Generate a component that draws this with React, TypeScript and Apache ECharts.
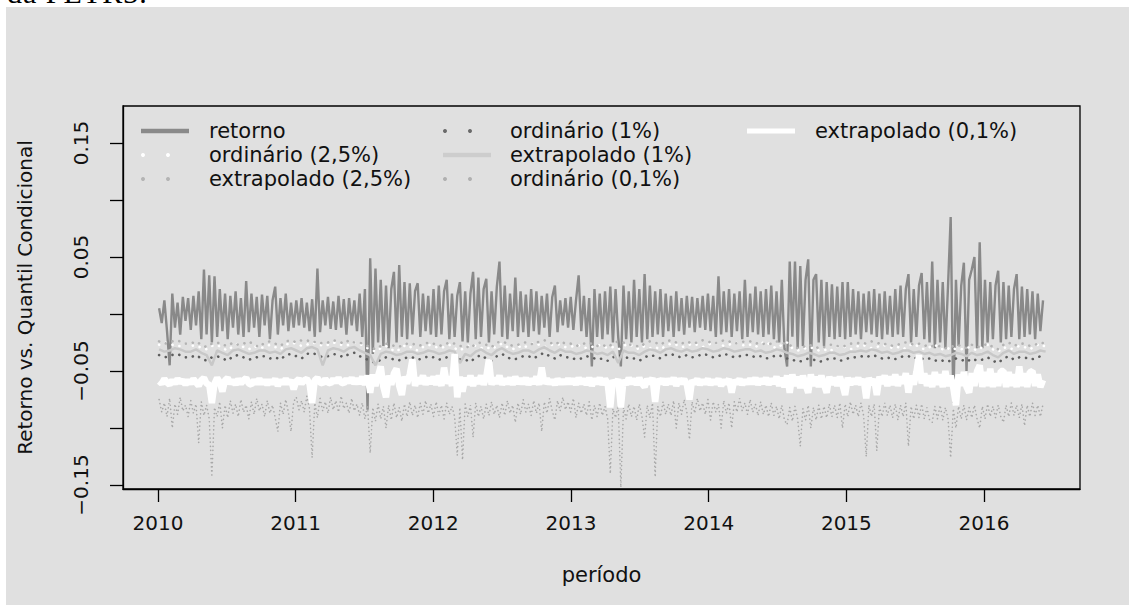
import React, { useEffect, useRef } from 'react';
import * as echarts from 'echarts';

const FONT = '"DejaVu Sans", sans-serif';

// weekly observation index -> decimal year (first week of Jan 2010 onward)
const weekT = (i: number) => 2010 + (3 + 7 * i) / 365.25;
// two-weekly index -> decimal year
const fortT = (k: number) => 2010 + (3 + 14 * k) / 365.25;

const X_TICKS = [2010, 2011, 2012, 2013, 2014, 2015, 2016];
const Y_TICKS = [-0.15, -0.1, -0.05, 0, 0.05, 0.1, 0.15];
const Y_LABELS = [-0.15, -0.05, 0.05, 0.15];

const SERIES_NAMES = [
  'retorno',
  'ordinário (2,5%)',
  'extrapolado (2,5%)',
  'ordinário (1%)',
  'extrapolado (1%)',
  'ordinário (0,1%)',
  'extrapolado (0,1%)',
];

// weekly returns
const retorno = [
  // 2010
  0.005, -0.008, 0.012, -0.015, -0.045, 0.018, -0.012, 0.010, -0.018, 0.015, -0.006, 0.014, -0.014, 0.016, -0.010, 0.020,
  -0.022, 0.039, -0.018, 0.034, -0.025, 0.033, -0.020, 0.022, -0.015, 0.018, -0.022, 0.016, -0.012, 0.020, -0.018, 0.014,
  -0.020, 0.029, -0.016, 0.018, -0.012, 0.015, -0.020, 0.017, -0.010, 0.016, -0.022, 0.012, 0.024, -0.018, 0.014, -0.010,
  0.018, -0.015, 0.010, -0.012,
  // 2011
  0.012, -0.010, 0.014, -0.012, 0.010, -0.015, 0.013, -0.020, 0.040, -0.016, 0.012, -0.010, 0.015, -0.013, 0.011, -0.014,
  0.016, -0.012, 0.013, -0.018, 0.014, -0.010, 0.012, -0.015, 0.018, -0.020, 0.022, -0.084, 0.049, -0.035, 0.040, -0.025,
  0.030, -0.028, 0.025, -0.030, 0.022, 0.037, -0.025, 0.043, -0.020, 0.028, -0.022, 0.027, -0.018, 0.020, 0.027, -0.020,
  0.018, -0.015, 0.016, -0.018,
  // 2012
  0.022, -0.020, 0.025, -0.018, 0.020, 0.030, -0.022, 0.018, -0.020, 0.016, 0.028, -0.024, 0.020, -0.025, 0.018, 0.037,
  -0.022, 0.032, -0.020, 0.022, 0.031, -0.025, 0.020, -0.018, 0.024, 0.046, -0.020, 0.025, -0.022, 0.018, -0.015, 0.032,
  -0.020, 0.020, -0.016, 0.017, -0.020, 0.022, -0.015, 0.020, -0.018, 0.016, -0.012, 0.018, -0.020, 0.015, 0.025, -0.016,
  0.012, -0.010, 0.014, -0.012,
  // 2013
  0.015, -0.014, 0.012, 0.034, -0.015, 0.016, -0.020, 0.014, -0.046, 0.022, -0.020, 0.018, -0.022, 0.020, -0.018, 0.024,
  -0.025, 0.022, -0.020, -0.046, 0.025, -0.022, 0.020, -0.025, 0.030, -0.020, 0.022, -0.025, 0.035, -0.022, 0.025, -0.020,
  0.020, -0.018, 0.022, -0.020, 0.018, -0.015, 0.016, -0.020, 0.020, -0.015, 0.014, -0.018, 0.016, -0.012, 0.015, -0.016,
  0.014, -0.012, 0.016, -0.014,
  // 2014
  0.018, -0.015, 0.016, -0.020, 0.033, -0.018, 0.020, -0.016, 0.022, -0.020, 0.018, -0.015, 0.020, -0.022, 0.030, -0.020,
  0.018, -0.016, 0.024, -0.018, 0.020, -0.020, 0.022, -0.018, 0.025, -0.022, 0.020, -0.025, 0.030, -0.030, -0.046, 0.046,
  -0.020, 0.046, -0.030, 0.042, -0.028, 0.030, 0.048, -0.046, 0.030, 0.035, -0.025, 0.030, -0.028, 0.028, -0.020, 0.026,
  -0.022, 0.024, -0.020, 0.028,
  // 2015
  -0.022, 0.028, -0.020, 0.022, -0.018, 0.020, -0.022, 0.018, -0.016, 0.020, -0.018, 0.022, -0.020, 0.018, -0.022, 0.020,
  -0.018, 0.016, -0.020, 0.022, -0.018, 0.025, -0.020, 0.022, 0.035, -0.025, 0.022, -0.020, 0.025, 0.036, -0.022, 0.028,
  -0.025, 0.046, -0.030, 0.030, -0.025, 0.028, -0.030, 0.025, 0.085, -0.078, 0.030, -0.028, 0.025, 0.045, -0.050, 0.030,
  0.039, 0.050, -0.030, 0.063,
  // 2016
  -0.030, 0.030, -0.025, 0.028, -0.022, 0.025, 0.038, -0.025, 0.028, -0.022, 0.025, -0.020, 0.022, 0.035, -0.022, 0.024,
  -0.020, 0.022, -0.018, 0.020, -0.022, 0.018, -0.015, 0.012,
];

// two-weekly conditional quantiles (2,5% and 1%)
const extrapolado25 = [
  -0.024, -0.026, -0.025, -0.023, -0.024, -0.026, -0.026, -0.024, -0.027, -0.029, -0.026, -0.025, -0.027, -0.028, -0.025, -0.027, -0.026, -0.024, -0.027, -0.029, -0.025, -0.024, -0.026, -0.028, -0.024, -0.023,
  -0.025, -0.023, -0.023, -0.025, -0.024, -0.026, -0.025, -0.023, -0.024, -0.026, -0.023, -0.025, -0.025, -0.027, -0.029, -0.031, -0.028, -0.026, -0.027, -0.029, -0.028, -0.026, -0.026, -0.028, -0.027, -0.025,
  -0.026, -0.028, -0.027, -0.025, -0.026, -0.028, -0.028, -0.030, -0.026, -0.025, -0.027, -0.029, -0.025, -0.024, -0.026, -0.028, -0.027, -0.025, -0.025, -0.027, -0.024, -0.023, -0.025, -0.027, -0.024, -0.026,
  -0.026, -0.028, -0.027, -0.025, -0.026, -0.028, -0.027, -0.029, -0.026, -0.024, -0.025, -0.027, -0.027, -0.029, -0.026, -0.024, -0.025, -0.027, -0.024, -0.023, -0.025, -0.026, -0.024, -0.026, -0.025, -0.023,
  -0.024, -0.026, -0.025, -0.023, -0.024, -0.026, -0.025, -0.024, -0.024, -0.026, -0.025, -0.027, -0.026, -0.024, -0.025, -0.027, -0.028, -0.030, -0.029, -0.027, -0.028, -0.030, -0.029, -0.027, -0.027, -0.029,
  -0.028, -0.026, -0.026, -0.025, -0.026, -0.024, -0.025, -0.027, -0.026, -0.028, -0.027, -0.025, -0.025, -0.027, -0.026, -0.028, -0.027, -0.029, -0.028, -0.030, -0.029, -0.027, -0.028, -0.030, -0.027, -0.029,
  -0.028, -0.026, -0.029, -0.031, -0.027, -0.025, -0.028, -0.026, -0.026, -0.028, -0.027, -0.025, -0.026,
];
const ordinario25 = [
  -0.027, -0.025, -0.026, -0.028, -0.028, -0.026, -0.027, -0.029, -0.029, -0.031, -0.028, -0.027, -0.030, -0.032, -0.028, -0.026, -0.029, -0.031, -0.028, -0.030, -0.029, -0.027, -0.029, -0.031, -0.027, -0.025,
  -0.026, -0.028, -0.027, -0.025, -0.026, -0.028, -0.027, -0.025, -0.026, -0.028, -0.027, -0.025, -0.026, -0.029, -0.031, -0.033, -0.030, -0.028, -0.031, -0.033, -0.029, -0.027, -0.030, -0.032, -0.029, -0.027,
  -0.028, -0.030, -0.029, -0.027, -0.030, -0.032, -0.029, -0.027, -0.028, -0.030, -0.029, -0.031, -0.028, -0.026, -0.029, -0.031, -0.028, -0.030, -0.027, -0.025, -0.027, -0.029, -0.028, -0.026, -0.027, -0.029,
  -0.029, -0.027, -0.028, -0.030, -0.029, -0.027, -0.028, -0.030, -0.029, -0.031, -0.028, -0.026, -0.029, -0.031, -0.028, -0.030, -0.029, -0.031, -0.028, -0.026, -0.027, -0.029, -0.028, -0.026, -0.027, -0.029,
  -0.027, -0.025, -0.026, -0.028, -0.027, -0.025, -0.026, -0.028, -0.027, -0.029, -0.026, -0.024, -0.028, -0.030, -0.027, -0.025, -0.030, -0.032, -0.031, -0.029, -0.030, -0.032, -0.031, -0.033, -0.030, -0.028,
  -0.029, -0.031, -0.029, -0.027, -0.028, -0.030, -0.029, -0.027, -0.028, -0.030, -0.029, -0.031, -0.028, -0.026, -0.029, -0.031, -0.029, -0.027, -0.030, -0.032, -0.029, -0.031, -0.031, -0.029, -0.030, -0.032,
  -0.029, -0.027, -0.031, -0.033, -0.029, -0.031, -0.030, -0.028, -0.029, -0.031, -0.028, -0.026, -0.029,
];
const extrapolado1 = [
  -0.031, -0.033, -0.032, -0.030, -0.031, -0.033, -0.033, -0.031, -0.034, -0.036, -0.045, -0.032, -0.034, -0.036, -0.032, -0.031, -0.033, -0.035, -0.034, -0.032, -0.032, -0.034, -0.033, -0.035, -0.031, -0.030,
  -0.032, -0.034, -0.030, -0.029, -0.031, -0.045, -0.032, -0.030, -0.031, -0.033, -0.030, -0.029, -0.032, -0.034, -0.036, -0.045, -0.035, -0.033, -0.034, -0.036, -0.035, -0.033, -0.033, -0.035, -0.034, -0.032,
  -0.033, -0.035, -0.034, -0.032, -0.033, -0.043, -0.035, -0.037, -0.033, -0.031, -0.034, -0.036, -0.032, -0.030, -0.033, -0.035, -0.034, -0.032, -0.032, -0.034, -0.031, -0.029, -0.032, -0.034, -0.031, -0.033,
  -0.033, -0.035, -0.034, -0.032, -0.033, -0.035, -0.034, -0.036, -0.033, -0.043, -0.032, -0.034, -0.034, -0.036, -0.033, -0.031, -0.032, -0.034, -0.031, -0.030, -0.032, -0.033, -0.031, -0.033, -0.032, -0.030,
  -0.031, -0.033, -0.032, -0.030, -0.031, -0.033, -0.032, -0.031, -0.031, -0.033, -0.032, -0.034, -0.033, -0.031, -0.032, -0.034, -0.035, -0.037, -0.036, -0.034, -0.035, -0.037, -0.036, -0.034, -0.034, -0.036,
  -0.035, -0.033, -0.033, -0.032, -0.033, -0.031, -0.032, -0.034, -0.033, -0.035, -0.034, -0.032, -0.032, -0.034, -0.033, -0.035, -0.034, -0.036, -0.035, -0.037, -0.036, -0.034, -0.035, -0.037, -0.034, -0.036,
  -0.035, -0.033, -0.036, -0.038, -0.034, -0.032, -0.035, -0.033, -0.033, -0.035, -0.034, -0.032, -0.033,
];
const ordinario1 = [
  -0.036, -0.038, -0.037, -0.035, -0.036, -0.038, -0.038, -0.036, -0.039, -0.041, -0.038, -0.037, -0.039, -0.041, -0.037, -0.036, -0.038, -0.040, -0.039, -0.037, -0.037, -0.039, -0.038, -0.040, -0.036, -0.035,
  -0.037, -0.039, -0.035, -0.034, -0.036, -0.038, -0.037, -0.035, -0.036, -0.038, -0.035, -0.034, -0.037, -0.039, -0.041, -0.043, -0.040, -0.038, -0.039, -0.041, -0.040, -0.038, -0.038, -0.040, -0.039, -0.037,
  -0.038, -0.040, -0.039, -0.037, -0.038, -0.040, -0.040, -0.042, -0.038, -0.036, -0.039, -0.041, -0.037, -0.035, -0.038, -0.040, -0.039, -0.037, -0.037, -0.039, -0.036, -0.034, -0.037, -0.039, -0.036, -0.038,
  -0.038, -0.040, -0.039, -0.037, -0.038, -0.040, -0.039, -0.041, -0.038, -0.036, -0.037, -0.039, -0.039, -0.041, -0.038, -0.036, -0.037, -0.039, -0.036, -0.035, -0.037, -0.038, -0.036, -0.038, -0.037, -0.035,
  -0.036, -0.038, -0.037, -0.035, -0.036, -0.038, -0.037, -0.036, -0.036, -0.038, -0.037, -0.039, -0.038, -0.036, -0.037, -0.039, -0.040, -0.042, -0.041, -0.039, -0.040, -0.042, -0.041, -0.039, -0.039, -0.041,
  -0.040, -0.038, -0.038, -0.037, -0.038, -0.036, -0.037, -0.039, -0.038, -0.040, -0.039, -0.037, -0.037, -0.039, -0.038, -0.040, -0.039, -0.041, -0.040, -0.042, -0.041, -0.039, -0.040, -0.042, -0.039, -0.041,
  -0.040, -0.038, -0.041, -0.043, -0.039, -0.037, -0.040, -0.038, -0.038, -0.040, -0.039, -0.037, -0.038,
];

// weekly 0,1% quantiles
const ordinario01 = [
  // 2010
  -0.075, -0.086, -0.078, -0.090, -0.074, -0.100, -0.079, -0.088, -0.073, -0.085, -0.080, -0.090, -0.076, -0.087, -0.079, -0.113,
  -0.077, -0.089, -0.080, -0.092, -0.143, -0.082, -0.090, -0.077, -0.100, -0.080, -0.091, -0.076, -0.087, -0.079, -0.090, -0.075,
  -0.086, -0.080, -0.092, -0.077, -0.088, -0.074, -0.085, -0.079, -0.090, -0.076, -0.087, -0.080, -0.091, -0.103, -0.078, -0.088,
  -0.075, -0.086, -0.103, -0.077,
  // 2011
  -0.073, -0.084, -0.076, -0.086, -0.072, -0.083, -0.126, -0.078, -0.091, -0.074, -0.085, -0.077, -0.087, -0.073, -0.084, -0.076,
  -0.086, -0.072, -0.083, -0.078, -0.087, -0.074, -0.085, -0.079, -0.089, -0.078, -0.092, -0.080, -0.122, -0.082, -0.094, -0.079,
  -0.092, -0.081, -0.100, -0.080, -0.093, -0.078, -0.091, -0.082, -0.094, -0.079, -0.090, -0.077, -0.089, -0.080, -0.091, -0.078,
  -0.088, -0.076, -0.087, -0.079,
  // 2012
  -0.090, -0.077, -0.089, -0.080, -0.092, -0.078, -0.088, -0.081, -0.090, -0.124, -0.082, -0.128, -0.079, -0.090, -0.080, -0.108,
  -0.078, -0.090, -0.081, -0.092, -0.079, -0.089, -0.077, -0.088, -0.080, -0.091, -0.078, -0.089, -0.076, -0.087, -0.080, -0.095,
  -0.078, -0.088, -0.075, -0.086, -0.079, -0.089, -0.076, -0.087, -0.078, -0.103, -0.077, -0.087, -0.074, -0.085, -0.093, -0.076,
  -0.085, -0.073, -0.084, -0.077,
  // 2013
  -0.086, -0.074, -0.091, -0.078, -0.087, -0.079, -0.089, -0.077, -0.093, -0.080, -0.090, -0.078, -0.089, -0.081, -0.092, -0.140,
  -0.083, -0.091, -0.080, -0.152, -0.082, -0.092, -0.079, -0.090, -0.081, -0.093, -0.079, -0.090, -0.108, -0.080, -0.091, -0.078,
  -0.143, -0.081, -0.090, -0.077, -0.088, -0.079, -0.089, -0.076, -0.100, -0.078, -0.088, -0.075, -0.086, -0.110, -0.077, -0.087,
  -0.074, -0.085, -0.078, -0.088,
  // 2014
  -0.075, -0.093, -0.077, -0.086, -0.079, -0.100, -0.076, -0.087, -0.078, -0.100, -0.077, -0.086, -0.074, -0.085, -0.078, -0.088,
  -0.075, -0.086, -0.079, -0.089, -0.077, -0.088, -0.080, -0.090, -0.078, -0.089, -0.081, -0.092, -0.080, -0.093, -0.097, -0.082,
  -0.094, -0.081, -0.092, -0.116, -0.083, -0.093, -0.080, -0.100, -0.082, -0.093, -0.080, -0.092, -0.081, -0.091, -0.079, -0.090,
  -0.080, -0.091, -0.078, -0.100,
  // 2015
  -0.079, -0.090, -0.077, -0.088, -0.080, -0.090, -0.078, -0.089, -0.125, -0.080, -0.090, -0.079, -0.120, -0.081, -0.090, -0.078,
  -0.089, -0.080, -0.091, -0.079, -0.093, -0.080, -0.090, -0.078, -0.116, -0.081, -0.092, -0.080, -0.091, -0.079, -0.092, -0.082,
  -0.093, -0.095, -0.081, -0.092, -0.080, -0.093, -0.082, -0.092, -0.126, -0.083, -0.100, -0.081, -0.092, -0.080, -0.093, -0.082,
  -0.091, -0.080, -0.092, -0.100,
  // 2016
  -0.081, -0.092, -0.079, -0.090, -0.081, -0.091, -0.080, -0.090, -0.095, -0.080, -0.090, -0.078, -0.089, -0.080, -0.091, -0.079,
  -0.098, -0.080, -0.090, -0.078, -0.089, -0.080, -0.090, -0.079,
];
const extrapolado01 = [
  // 2010
  -0.059, -0.061, -0.057, -0.060, -0.062, -0.058, -0.061, -0.057, -0.060, -0.058, -0.062, -0.058, -0.061, -0.057, -0.060, -0.063,
  -0.058, -0.056, -0.061, -0.062, -0.078, -0.061, -0.056, -0.060, -0.068, -0.058, -0.056, -0.061, -0.058, -0.062, -0.057, -0.061,
  -0.058, -0.056, -0.061, -0.062, -0.058, -0.061, -0.057, -0.061, -0.058, -0.062, -0.058, -0.061, -0.057, -0.063, -0.058, -0.061,
  -0.057, -0.061, -0.058, -0.066,
  // 2011
  -0.059, -0.057, -0.061, -0.058, -0.057, -0.061, -0.078, -0.058, -0.056, -0.060, -0.061, -0.057, -0.060, -0.061, -0.057, -0.060,
  -0.056, -0.060, -0.061, -0.057, -0.060, -0.056, -0.061, -0.057, -0.061, -0.055, -0.062, -0.054, -0.069, -0.053, -0.063, -0.054,
  -0.046, -0.064, -0.073, -0.054, -0.062, -0.052, -0.048, -0.063, -0.071, -0.055, -0.061, -0.053, -0.040, -0.063, -0.056, -0.061,
  -0.054, -0.062, -0.056, -0.061,
  // 2012
  -0.055, -0.062, -0.054, -0.063, -0.047, -0.061, -0.055, -0.063, -0.035, -0.073, -0.055, -0.068, -0.056, -0.062, -0.054, -0.063,
  -0.056, -0.061, -0.054, -0.062, -0.055, -0.040, -0.062, -0.056, -0.061, -0.054, -0.062, -0.057, -0.061, -0.056, -0.062, -0.055,
  -0.061, -0.057, -0.061, -0.056, -0.062, -0.057, -0.061, -0.055, -0.062, -0.047, -0.061, -0.057, -0.061, -0.058, -0.062, -0.057,
  -0.061, -0.058, -0.061, -0.057,
  // 2013
  -0.061, -0.057, -0.062, -0.056, -0.061, -0.057, -0.062, -0.056, -0.063, -0.057, -0.061, -0.056, -0.062, -0.057, -0.061, -0.082,
  -0.058, -0.062, -0.057, -0.082, -0.058, -0.062, -0.056, -0.061, -0.057, -0.062, -0.056, -0.061, -0.064, -0.057, -0.061, -0.056,
  -0.077, -0.057, -0.061, -0.057, -0.062, -0.057, -0.061, -0.056, -0.063, -0.057, -0.061, -0.057, -0.062, -0.075, -0.058, -0.061,
  -0.057, -0.062, -0.058, -0.061,
  // 2014
  -0.057, -0.062, -0.058, -0.061, -0.057, -0.063, -0.058, -0.061, -0.057, -0.069, -0.058, -0.061, -0.057, -0.062, -0.058, -0.061,
  -0.057, -0.061, -0.056, -0.062, -0.057, -0.061, -0.056, -0.062, -0.057, -0.061, -0.055, -0.063, -0.056, -0.064, -0.054, -0.069,
  -0.053, -0.063, -0.055, -0.065, -0.054, -0.062, -0.069, -0.053, -0.063, -0.055, -0.064, -0.054, -0.062, -0.069, -0.055, -0.062,
  -0.056, -0.063, -0.055, -0.062,
  // 2015
  -0.071, -0.056, -0.062, -0.057, -0.061, -0.056, -0.062, -0.057, -0.074, -0.056, -0.062, -0.057, -0.071, -0.055, -0.061, -0.054,
  -0.063, -0.055, -0.062, -0.053, -0.063, -0.055, -0.061, -0.052, -0.069, -0.054, -0.062, -0.051, -0.036, -0.061, -0.052, -0.063,
  -0.054, -0.064, -0.051, -0.062, -0.053, -0.064, -0.050, -0.063, -0.054, -0.065, -0.080, -0.053, -0.063, -0.051, -0.064, -0.069,
  -0.052, -0.063, -0.050, -0.045,
  // 2016
  -0.064, -0.051, -0.063, -0.048, -0.064, -0.052, -0.063, -0.050, -0.050, -0.064, -0.051, -0.063, -0.053, -0.064, -0.046, -0.063,
  -0.052, -0.064, -0.051, -0.050, -0.063, -0.053, -0.064, -0.058,
];

const weekly = (vals: number[]) => vals.map((v, i) => [weekT(i), v]);
const fortnightly = (vals: number[]) => vals.map((v, k) => [fortT(k), v]);

const fmtY = (v: number) => (v < 0 ? '\u2212' : '') + Math.abs(v).toFixed(2);

const dotted = (color: string, width: number, gap: number) => ({
  color,
  width,
  type: [0.1, gap] as number[],
  cap: 'round' as const,
});

function buildLegend() {
  const rows = [131, 155, 179];
  const cols = [
    { s: 141, e: 189, t: 209 },
    { s: 443, e: 491, t: 510 },
    { s: 747, e: 795, t: 815 },
  ];
  const items: any[] = [];
  const place = [
    { c: 0, r: 0, kind: 'line', color: '#8a8a8a', w: 4.5 },
    { c: 0, r: 1, kind: 'dots', color: '#ffffff' },
    { c: 0, r: 2, kind: 'dots', color: '#b4b4b4' },
    { c: 1, r: 0, kind: 'dots', color: '#6a6a6a' },
    { c: 1, r: 1, kind: 'line', color: '#cdcdcd', w: 4.5 },
    { c: 1, r: 2, kind: 'dots', color: '#b0b0b0' },
    { c: 2, r: 0, kind: 'line', color: '#ffffff', w: 5 },
  ];
  place.forEach((p, i) => {
    const col = cols[p.c];
    const y = rows[p.r];
    if (p.kind === 'line') {
      items.push({
        type: 'line',
        silent: true,
        shape: { x1: col.s, y1: y, x2: col.e, y2: y },
        style: { stroke: p.color, lineWidth: p.w },
      });
    } else {
      [col.s + 2, col.s + 27].forEach((cx) =>
        items.push({ type: 'circle', silent: true, shape: { cx, cy: y, r: 2 }, style: { fill: p.color } })
      );
    }
    items.push({
      type: 'text',
      silent: true,
      x: col.t,
      y,
      style: {
        text: SERIES_NAMES[i],
        fontFamily: FONT,
        fontSize: 21,
        fill: '#111',
        verticalAlign: 'middle',
        align: 'left',
      },
    });
  });
  return items;
}

export default function App() {
  const ref = useRef<HTMLDivElement>(null);
  useEffect(() => {
    if (!ref.current) return;
    const chart = echarts.init(ref.current, null, { renderer: 'svg' });
    const option: any = {
      animation: false,
      backgroundColor: 'transparent',
      textStyle: { fontFamily: FONT },
      grid: {
        left: 123,
        top: 106,
        width: 957,
        height: 383,
        show: true,
        borderColor: '#000',
        borderWidth: 1.3,
        backgroundColor: 'transparent',
      },
      xAxis: {
        type: 'value',
        min: 2009.746,
        max: 2016.697,
        name: 'período',
        nameLocation: 'middle',
        nameGap: 75,
        nameTextStyle: { fontFamily: FONT, fontSize: 21, color: '#111' },
        axisLine: { show: true, onZero: false, lineStyle: { color: '#000', width: 1.3 } },
        axisTick: { show: true, length: 13, customValues: X_TICKS, lineStyle: { color: '#000', width: 1.3 } },
        axisLabel: {
          customValues: X_TICKS,
          margin: 24,
          fontFamily: FONT,
          fontSize: 20,
          color: '#111',
          formatter: (v: number) => String(Math.round(v)),
        },
        splitLine: { show: false },
      },
      yAxis: {
        type: 'value',
        min: -0.1535,
        max: 0.1825,
        name: 'Retorno vs. Quantil Condicional',
        nameLocation: 'middle',
        nameGap: 88,
        nameRotate: 90,
        nameTextStyle: { fontFamily: FONT, fontSize: 20, color: '#111' },
        axisLine: { show: true, onZero: false, lineStyle: { color: '#000', width: 1.3 } },
        axisTick: { show: true, length: 13, customValues: Y_TICKS, lineStyle: { color: '#000', width: 1.3 } },
        axisLabel: {
          customValues: Y_LABELS,
          rotate: 90,
          margin: 32,
          fontFamily: FONT,
          fontSize: 20,
          color: '#111',
          formatter: fmtY,
        },
        splitLine: { show: false },
      },
      series: [
        {
          name: SERIES_NAMES[0],
          type: 'line',
          data: weekly(retorno),
          symbol: 'none',
          lineStyle: { color: '#898989', width: 2.4 },
        },
        {
          name: SERIES_NAMES[1],
          type: 'line',
          data: fortnightly(ordinario25),
          symbol: 'none',
          lineStyle: dotted('#ffffff', 2.6, 7),
        },
        {
          name: SERIES_NAMES[2],
          type: 'line',
          data: fortnightly(extrapolado25),
          symbol: 'none',
          lineStyle: dotted('#b4b4b4', 2.6, 7),
        },
        {
          name: SERIES_NAMES[3],
          type: 'line',
          data: fortnightly(ordinario1),
          symbol: 'none',
          lineStyle: dotted('#5e5e5e', 2.6, 7),
        },
        {
          name: SERIES_NAMES[4],
          type: 'line',
          data: fortnightly(extrapolado1),
          symbol: 'none',
          lineStyle: { color: '#c8c8c8', width: 2.5 },
        },
        {
          name: SERIES_NAMES[5],
          type: 'line',
          data: weekly(ordinario01),
          symbol: 'none',
          lineStyle: dotted('#a8a8a8', 1.6, 4),
        },
        {
          name: SERIES_NAMES[6],
          type: 'line',
          data: weekly(extrapolado01),
          symbol: 'none',
          lineStyle: { color: '#ffffff', width: 6.5 },
        },
      ],
      graphic: buildLegend(),
    };
    chart.setOption(option);
    return () => chart.dispose();
  }, []);

  return (
    <div
      style={{
        position: 'fixed',
        left: 0,
        top: 0,
        width: 1129,
        height: 605,
        background: '#ffffff',
        overflow: 'hidden',
      }}
    >
      <div style={{ position: 'absolute', left: 0, top: 0, width: 400, height: 7, overflow: 'hidden' }}>
        <div
          style={{
            position: 'absolute',
            left: 7,
            top: -22,
            fontFamily: '"Liberation Serif", serif',
            fontSize: 30,
            lineHeight: '30px',
            whiteSpace: 'nowrap',
            color: '#000',
            letterSpacing: 1,
          }}
        >
          da PETR3.
        </div>
      </div>
      <div style={{ position: 'absolute', left: 6, top: 7, width: 1123, height: 598, background: '#e0e0e0' }} />
      <div ref={ref} style={{ position: 'absolute', left: 0, top: 0, width: 1129, height: 605 }} />
    </div>
  );
}
